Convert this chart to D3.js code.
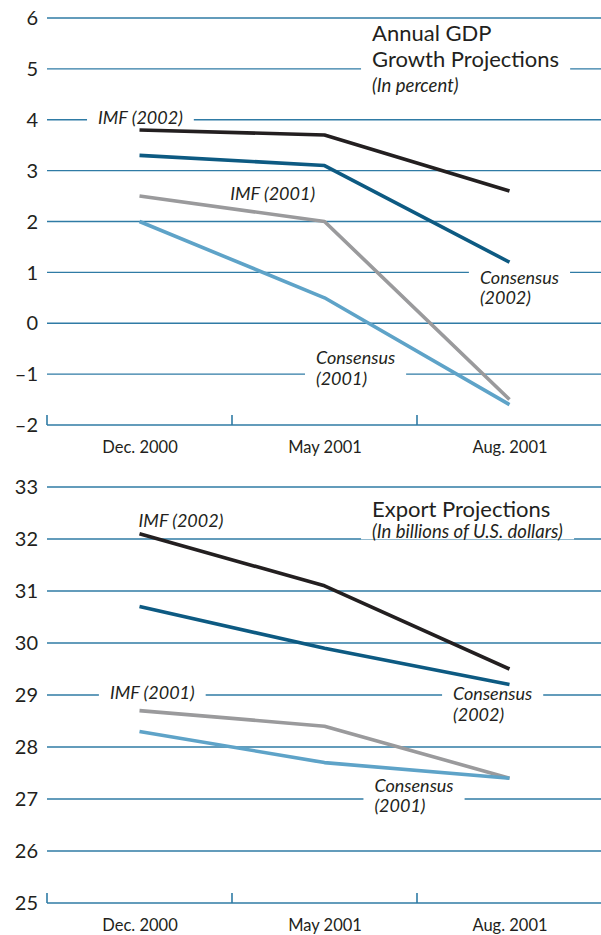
<!DOCTYPE html>
<html>
<head>
<meta charset="utf-8">
<script src="https://cdn.jsdelivr.net/npm/d3@7"></script>
<style>
  body { margin: 0; background: #fff; }
  svg { display: block; font-family: Lato, "Open Sans", sans-serif; }
</style>
</head>
<body>
<svg id="chart" width="601" height="935"></svg>
<script>
const categories = ['Dec. 2000', 'May 2001', 'Aug. 2001']

// annual GDP growth projections, percent
const gdpTicks = [-2, -1, 0, 1, 2, 3, 4, 5, 6]
const gdpImf2002 = [3.8, 3.7, 2.6]
const gdpConsensus2002 = [3.3, 3.1, 1.2]
const gdpImf2001 = [2.5, 2.0, -1.5]
const gdpConsensus2001 = [2.0, 0.5, -1.6]

// export projections, billions of US dollars
const exportTicks = [25, 26, 27, 28, 29, 30, 31, 32, 33]
const exportImf2002 = [32.1, 31.1, 29.5]
const exportConsensus2002 = [30.7, 29.9, 29.2]
const exportImf2001 = [28.7, 28.4, 27.4]
const exportConsensus2001 = [28.3, 27.7, 27.4]

const gridColor = '#2f7ba5'
const textColor = '#231f20'
const colors = {
  imf2002: '#231f20',
  cons2002: '#0d5a82',
  imf2001: '#9a9a9c',
  cons2001: '#5ea3c8'
}

const svg = d3.select('#chart')
const left = 47, right = 601

const x = d3.scalePoint()
  .domain(categories)
  .range([left, left + 555])
  .padding(0.5)
const step = x.step()

// label anchor: category index (fractional) -> pixel
function xAt(i){
  return x(categories[0]) + i * step
}

function drawPanel(cfg){
  const y = d3.scaleLinear().domain(d3.extent(cfg.ticks)).range([cfg.bottom, cfg.top])
  const g = svg.append('g')

  // gridlines
  g.selectAll('line.grid')
    .data(cfg.ticks.slice(1))
    .enter().append('line')
    .attr('x1', left).attr('x2', right)
    .attr('y1', d => y(d)).attr('y2', d => y(d))
    .attr('stroke', gridColor).attr('stroke-width', 1.4)

  // bottom axis with separators between categories
  const axis = d3.axisBottom(x).tickSize(0).tickPadding(16)
  const ax = g.append('g').attr('transform', `translate(0,${cfg.bottom})`).call(axis)
  ax.select('.domain').remove()
  ax.selectAll('text')
    .attr('font-size', 16.5).attr('fill', textColor)
    .attr('font-family', 'Lato, sans-serif')
  g.append('line')
    .attr('x1', left).attr('x2', right)
    .attr('y1', cfg.bottom).attr('y2', cfg.bottom)
    .attr('stroke', gridColor).attr('stroke-width', 1.6)
  g.selectAll('line.sep')
    .data([0, 1, 2])
    .enter().append('line')
    .attr('x1', i => left + i * step).attr('x2', i => left + i * step)
    .attr('y1', cfg.bottom).attr('y2', cfg.bottom - 10)
    .attr('stroke', gridColor).attr('stroke-width', 1.6)

  // y tick labels
  g.selectAll('text.ytick')
    .data(cfg.ticks)
    .enter().append('text')
    .attr('x', 38).attr('y', d => y(d))
    .attr('dy', '0.36em')
    .attr('text-anchor', 'end')
    .attr('font-size', 20)
    .attr('fill', textColor)
    .text(d => d < 0 ? '\u2013' + Math.abs(d) : d)

  // series
  const line = d3.line()
    .x((d, i) => x(categories[i]))
    .y(d => y(d))
  cfg.series.forEach(s => {
    g.append('path')
      .datum(s.values)
      .attr('d', line)
      .attr('fill', 'none')
      .attr('stroke', colors[s.key])
      .attr('stroke-width', 3.6)
      .attr('stroke-linejoin', 'round')
  })

  // labels with white knockout behind them
  cfg.labels.forEach(l => {
    const lg = g.append('g')
    const t = lg.append('text')
      .attr('text-anchor', l.anchor || 'start')
      .attr('font-size', l.size)
      .attr('font-style', l.italic ? 'italic' : 'normal')
      .attr('fill', textColor)
    l.lines.forEach((txt, k) => {
      t.append('tspan')
        .attr('x', xAt(l.i))
        .attr('y', y(l.v) + k * l.lh)
        .attr('dy', '0.35em')
        .attr('font-size', l.sizes ? l.sizes[k] : l.size)
        .attr('font-style', l.styles ? l.styles[k] : null)
        .text(txt)
    })
    const bb = t.node().getBBox()
    lg.insert('rect', 'text')
      .attr('x', bb.x - 11).attr('y', bb.y + 5)
      .attr('width', bb.width + 22).attr('height', bb.height - 8)
      .attr('fill', '#fff')
  })
}

drawPanel({
  top: 18, bottom: 425,
  ticks: gdpTicks,
  series: [
    {key: 'imf2001', values: gdpImf2001},
    {key: 'cons2001', values: gdpConsensus2001},
    {key: 'cons2002', values: gdpConsensus2002},
    {key: 'imf2002', values: gdpImf2002}
  ],
  labels: [
    {lines: ['Annual GDP', 'Growth Projections', '(In percent)'], i: 1.257, v: 5.7, lh: 26, size: 22,
      sizes: [22, 22, 18.5], styles: ['normal', 'normal', 'italic']},
    {lines: ['IMF (2002)'], i: 0.005, v: 4.05, lh: 20, size: 18, italic: true, anchor: 'middle'},
    {lines: ['IMF (2001)'], i: 0.72, v: 2.55, lh: 20, size: 18, italic: true, anchor: 'middle'},
    {lines: ['Consensus', '(2002)'], i: 1.84, v: 0.9, lh: 20, size: 18, italic: true},
    {lines: ['Consensus', '(2001)'], i: 0.954, v: -0.67, lh: 21, size: 18, italic: true}
  ]
})

drawPanel({
  top: 487, bottom: 903,
  ticks: exportTicks,
  series: [
    {key: 'imf2001', values: exportImf2001},
    {key: 'cons2001', values: exportConsensus2001},
    {key: 'cons2002', values: exportConsensus2002},
    {key: 'imf2002', values: exportImf2002}
  ],
  labels: [
    {lines: ['Export Projections', '(In billions of U.S. dollars)'], i: 1.257, v: 32.58, lh: 23, size: 22,
      sizes: [22, 18.5], styles: ['normal', 'italic']},
    {lines: ['IMF (2002)'], i: -0.005, v: 32.35, lh: 20, size: 18, italic: true},
    {lines: ['IMF (2001)'], i: -0.16, v: 29.04, lh: 20, size: 18, italic: true},
    {lines: ['Consensus', '(2002)'], i: 1.695, v: 29.02, lh: 21, size: 18, italic: true},
    {lines: ['Consensus', '(2001)'], i: 1.27, v: 27.25, lh: 20, size: 18, italic: true}
  ]
})
</script>
</body>
</html>
